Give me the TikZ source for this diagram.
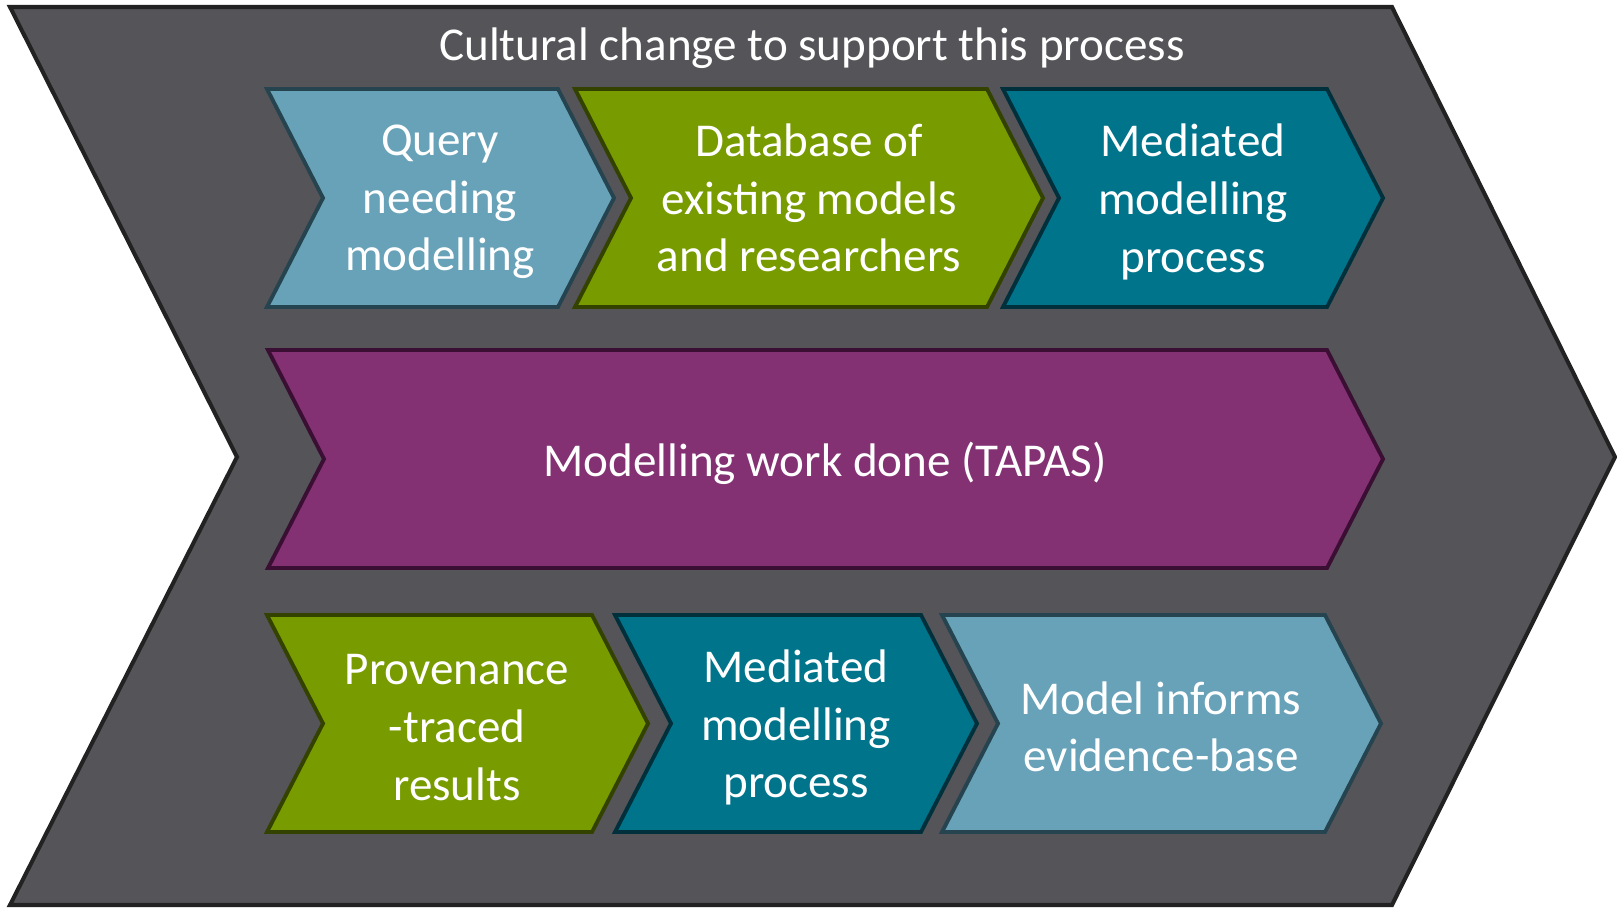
\documentclass[tikz,border=0pt]{standalone}
\usepackage{fontspec}
\setmainfont{Carlito}
\definecolor{greyfill}{HTML}{545459}
\definecolor{greyline}{HTML}{222222}
\definecolor{skyfill}{HTML}{68A2B8}
\definecolor{skyline}{HTML}{25444F}
\definecolor{olivefill}{HTML}{789B00}
\definecolor{oliveline}{HTML}{344200}
\definecolor{tealfill}{HTML}{00748B}
\definecolor{tealline}{HTML}{00303C}
\definecolor{plumfill}{HTML}{843173}
\definecolor{plumline}{HTML}{3A0F33}
\begin{document}
\begin{tikzpicture}[x=0.02cm, y=-0.02cm, line join=miter,
    outer/.style={fill=greyfill, draw=greyline, line width=2.3pt},
    sky/.style={fill=skyfill, draw=skyline, line width=2.2pt},
    olive/.style={fill=olivefill, draw=oliveline, line width=2.2pt},
    teal/.style={fill=tealfill, draw=tealline, line width=2.2pt},
    plum/.style={fill=plumfill, draw=plumline, line width=2.2pt},
    label/.style={text=white, align=center, font=\fontsize{26.8pt}{32.8pt}\selectfont}]
                    \useasboundingbox (0, 0) rectangle (1617, 909);
                    % big chevron behind everything
                    \draw[outer](10, 7) -- (1392, 7) -- (1615, 457) -- (1392, 905) -- (10, 905) -- (237, 457) -- cycle;
                        \node[label] (title) at (812, 48){Cultural change to support this process};
                    % top row
                    \draw[sky](267, 89) -- (558, 89) -- (614, 198) -- (558, 307) -- (267, 307) -- (323, 198) -- cycle;
                        \node[label] (query) at (440, 202){Query\\needing\\modelling};
                    \draw[olive](575, 89) -- (987, 89) -- (1043, 198) -- (987, 307) -- (575, 307) -- (631, 198) -- cycle;
                        \node[label] (database) at (809, 198){Database of\\existing models\\and researchers};
                    \draw[teal](1003, 89) -- (1327, 89) -- (1383, 198) -- (1327, 307) -- (1003, 307) -- (1059, 198) -- cycle;
                        \node[label] (mediatedtop) at (1193, 202){Mediated\\modelling\\process};
                    % middle row
                    \draw[plum](268, 350) -- (1327, 350) -- (1383, 459) -- (1327, 568) -- (268, 568) -- (324, 459) -- cycle;
                        \node[label] (work) at (825, 463){Modelling work done (TAPAS)};
                    % bottom row
                    \draw[olive](267, 615) -- (592, 615) -- (648, 723.5) -- (592, 832) -- (267, 832) -- (323, 723.5) -- cycle;
                        \node[label] (provenance) at (457, 727.5){Provenance\\-traced\\results};
                    \draw[teal](615, 615) -- (921, 615) -- (977, 723.5) -- (921, 832) -- (615, 832) -- (671, 723.5) -- cycle;
                        \node[label] (mediatedbottom) at (796, 727.5){Mediated\\modelling\\process};
                    \draw[sky](942, 615) -- (1325, 615) -- (1381, 723.5) -- (1325, 832) -- (942, 832) -- (998, 723.5) -- cycle;
                        \node[label] (informs) at (1161, 727){Model informs\\evidence-base};
\end{tikzpicture}
\end{document}
